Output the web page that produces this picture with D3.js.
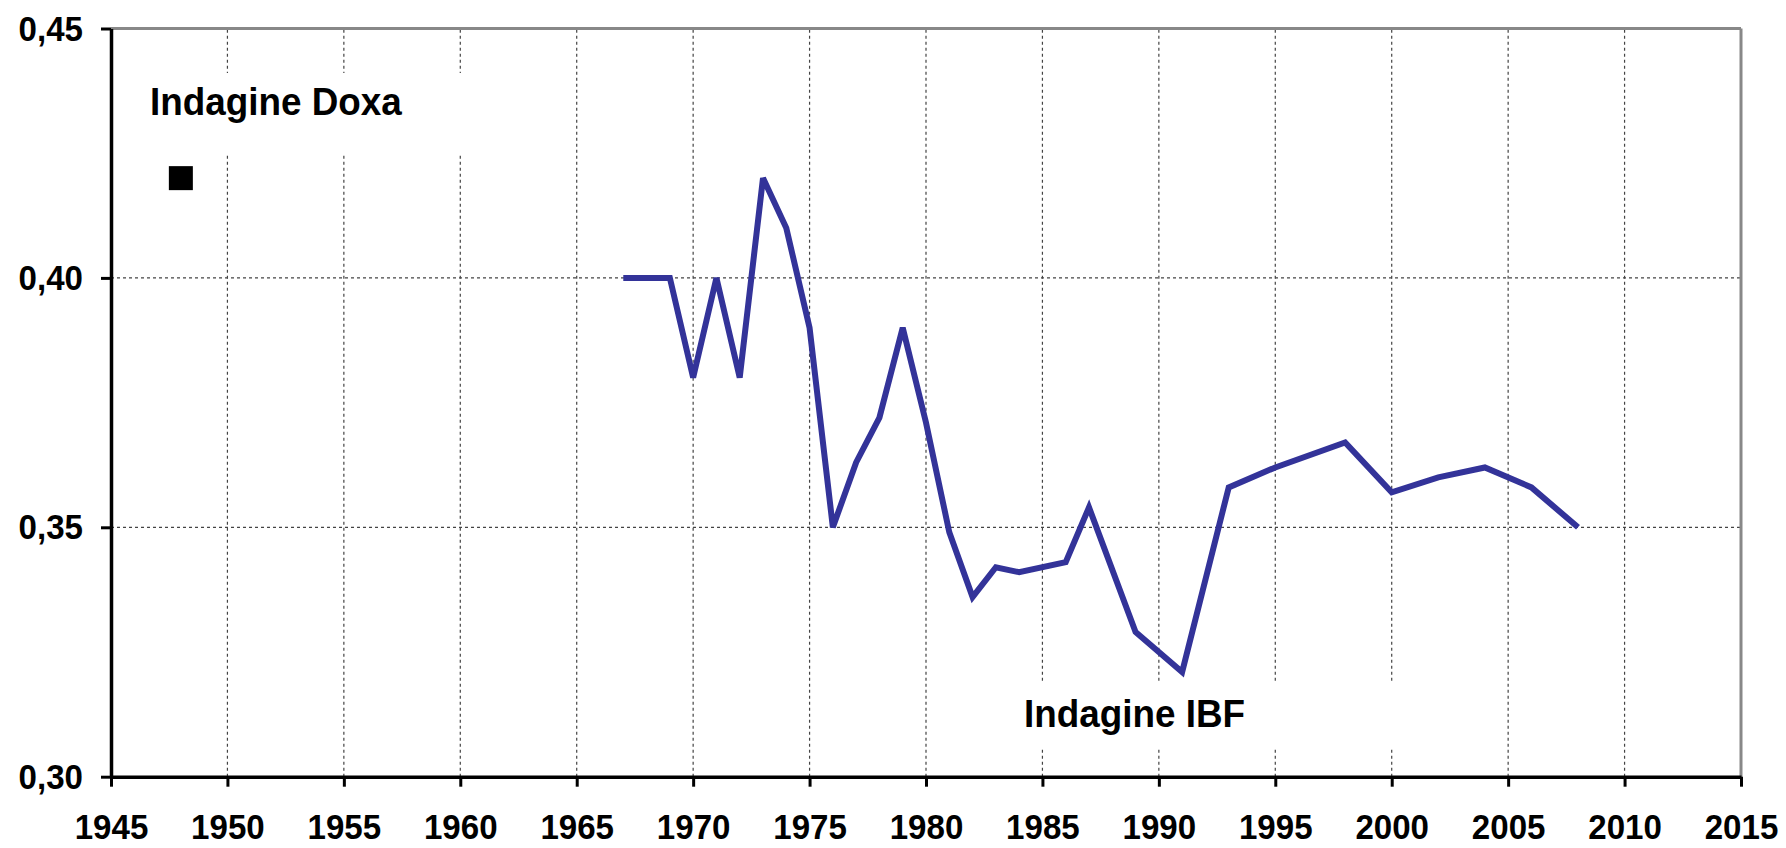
<!DOCTYPE html>
<html>
<head>
<meta charset="utf-8">
<script src="https://cdn.jsdelivr.net/npm/d3@7"></script>
<style>
  html, body { margin: 0; padding: 0; background: #fff; }
  svg { display: block; }
  text { font-family: "Liberation Sans", Arial, sans-serif; font-weight: bold; fill: #000; }
</style>
</head>
<body>
<svg id="chart" width="1786" height="848"></svg>
<script>
// ---- data ----
const ibfYears  = [1967,1968,1969,1970,1971,1972,1973,1974,1975,1976,1977,1978,1979,1980,1981,1982,1983,1984,1986,1987,1989,1991,1993,1995,1998,2000,2002,2004,2006,2008];
const ibfValues = [0.400,0.400,0.400,0.380,0.400,0.380,0.420,0.410,0.390,0.350,0.363,0.372,0.390,0.371,0.349,0.336,0.342,0.341,0.343,0.354,0.329,0.321,0.358,0.362,0.367,0.357,0.360,0.362,0.358,0.350];
const doxaYears  = [1948];
const doxaValues = [0.420];
const xTickValues = [1945,1950,1955,1960,1965,1970,1975,1980,1985,1990,1995,2000,2005,2010,2015];
const yTickValues = [0.30,0.35,0.40,0.45];
const xGridValues = [1950,1955,1960,1965,1970,1975,1980,1985,1990,1995,2000,2005,2010];
const yGridValues = [0.35,0.40];
const labelDoxa = "Indagine Doxa";
const labelIBF  = "Indagine IBF";

// ---- scales ----
const svg = d3.select("#chart");
const x = d3.scaleLinear().domain([1945, 2015]).range([111, 1741]);
const y = d3.scaleLinear().domain([0.30, 0.45]).range([776.7, 28.5]);
const fmt = v => d3.format(".2f")(v).replace(".", ",");
const sx = 0.92;

// ---- gridlines ----
const grid = svg.append("g");
grid.selectAll("line.v").data(xGridValues).join("line")
  .attr("x1", d => x(d)).attr("x2", d => x(d))
  .attr("y1", y(0.30)).attr("y2", y(0.45))
  .attr("stroke", "#444").attr("stroke-width", 1.2).attr("stroke-dasharray", "3,3");
grid.selectAll("line.h").data(yGridValues).join("line")
  .attr("x1", x(1945)).attr("x2", x(2015))
  .attr("y1", d => y(d)).attr("y2", d => y(d))
  .attr("stroke", "#444").attr("stroke-width", 1.2).attr("stroke-dasharray", "3,3");

// ---- label boxes (cover gridlines) ----
svg.append("rect").attr("x", 135).attr("y", 73).attr("width", 355).attr("height", 80).attr("fill", "#fff");
svg.append("rect").attr("x", 985).attr("y", 683).attr("width", 435).attr("height", 66).attr("fill", "#fff");

// ---- top & right border ----
svg.append("line").attr("x1", x(1945)).attr("x2", x(2015)).attr("y1", y(0.45)).attr("y2", y(0.45))
  .attr("stroke", "#888").attr("stroke-width", 3);
svg.append("line").attr("x1", x(2015)).attr("x2", x(2015)).attr("y1", y(0.45)).attr("y2", y(0.30))
  .attr("stroke", "#888").attr("stroke-width", 3);

// ---- axes ----
const yAxis = d3.axisLeft(y).tickValues(yTickValues).tickFormat(fmt)
  .tickSize(10).tickSizeOuter(0).tickPadding(18);
const gy = svg.append("g").attr("transform", `translate(${x(1945)},0)`).call(yAxis);
const xAxis = d3.axisBottom(x).tickValues(xTickValues).tickFormat(d3.format("d"))
  .tickSize(10).tickSizeOuter(0).tickPadding(27);
const gx = svg.append("g").attr("transform", `translate(0,${y(0.30)})`).call(xAxis);
[gx, gy].forEach(g => {
  g.select(".domain").attr("stroke", "#000").attr("stroke-width", 3.5);
  g.selectAll(".tick line").attr("stroke", "#000").attr("stroke-width", 3);
  g.selectAll(".tick text").attr("font-size", 36)
    .attr("font-family", '"Liberation Sans", Arial, sans-serif').attr("font-weight", "bold").attr("fill", "#000");
});
gx.selectAll(".tick text").attr("transform", `scale(${sx},1)`);
gy.selectAll(".tick text").attr("x", -28 / sx).attr("transform", `scale(${sx},1)`);

// ---- IBF line ----
const lineData = ibfYears.map((yr, i) => ({ yr, v: ibfValues[i] }));
svg.append("path").datum(lineData)
  .attr("fill", "none").attr("stroke", "#333399").attr("stroke-width", 6)
  .attr("stroke-linejoin", "miter").attr("stroke-miterlimit", 3)
  .attr("d", d3.line().x(d => x(d.yr)).y(d => y(d.v)));

// ---- Doxa marker ----
svg.selectAll("rect.doxa").data(doxaYears.map((yr, i) => ({ yr, v: doxaValues[i] }))).join("rect")
  .attr("x", d => x(d.yr) - 12).attr("y", d => y(d.v) - 12)
  .attr("width", 24).attr("height", 24).attr("fill", "#000");

// ---- labels ----
svg.append("text").attr("x", 150 / 0.97).attr("y", 115).attr("font-size", 38)
  .attr("transform", "scale(0.97,1)").text(labelDoxa);
svg.append("text").attr("x", 1024 / 0.97).attr("y", 727).attr("font-size", 38)
  .attr("transform", "scale(0.97,1)").text(labelIBF);
</script>
</body>
</html>
